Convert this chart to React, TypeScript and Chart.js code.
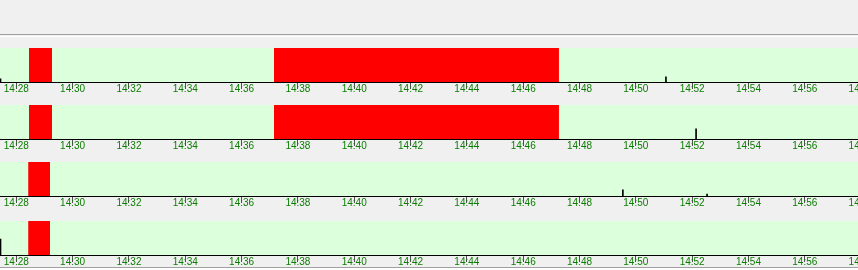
import React, { useEffect, useRef } from "react";
import { Chart, registerables } from "chart.js";

Chart.register(...registerables);

// time axis in minutes after 14:00
const axisMin = 27.421;
const axisMax = 57.89;
const tickValues = [28, 30, 32, 34, 36, 38, 40, 42, 44, 46, 48, 50, 52, 54, 56, 58];
const tickLabels = ["14:28", "14:30", "14:32", "14:34", "14:36", "14:38", "14:40", "14:42", "14:44", "14:46", "14:48", "14:50", "14:52", "14:54", "14:56", "14:58"];

// red intervals [start, end] in minutes after 14:00
const redBlocks1 = [[28.45, 29.27], [37.15, 47.27]];
const redBlocks2 = [[28.45, 29.27], [37.15, 47.27]];
const redBlocks3 = [[28.42, 29.2]];
const redBlocks4 = [[28.42, 29.2]];

// spikes: times and relative heights
const spikeTimes1 = [27.439, 51.07];
const spikeValues1 = [0.09, 0.15];
const spikeTimes2 = [52.14];
const spikeValues2 = [0.3];
const spikeTimes3 = [49.54, 52.53];
const spikeValues3 = [0.18, 0.06];
const spikeTimes4 = [27.439];
const spikeValues4 = [0.47];

const strips = [
  { blocks: redBlocks1, times: spikeTimes1, values: spikeValues1 },
  { blocks: redBlocks2, times: spikeTimes2, values: spikeValues2 },
  { blocks: redBlocks3, times: spikeTimes3, values: spikeValues3 },
  { blocks: redBlocks4, times: spikeTimes4, values: spikeValues4 },
];

const stripTops = [48, 105, 162, 221];
const W = 858;
const PLOT_H = 34;
const AXIS_H = 16;

const bgPlugin = {
  id: "greenBg",
  beforeDatasetsDraw(chart: any) {
    const { ctx, chartArea } = chart;
    ctx.save();
    ctx.fillStyle = "#dcffdc";
    ctx.fillRect(chartArea.left, chartArea.top, chartArea.right - chartArea.left, chartArea.bottom - chartArea.top);
    ctx.restore();
  },
};

function Strip({ index }: { index: number }) {
  const ref = useRef<HTMLCanvasElement | null>(null);
  useEffect(() => {
    const s = strips[index];
    const datasets: any[] = s.blocks.map((b) => ({
      type: "line",
      data: [
        { x: b[0], y: 1 },
        { x: b[1], y: 1 },
      ],
      fill: "origin",
      backgroundColor: "#ff0000",
      borderColor: "rgba(0,0,0,0)",
      borderWidth: 0,
      pointRadius: 0,
      order: 2,
    }));
    datasets.push({
      type: "bar",
      data: s.times.map((t, i) => ({ x: t, y: s.values[i] })),
      backgroundColor: "#000000",
      barThickness: 1,
      grouped: false,
      order: 1,
    });
    const chart = new Chart(ref.current as HTMLCanvasElement, {
      type: "line",
      data: { datasets },
      plugins: [bgPlugin],
      options: {
        animation: false,
        responsive: false,
        maintainAspectRatio: false,
        layout: { padding: 0 },
        plugins: { legend: { display: false }, tooltip: { enabled: false } },
        scales: {
          x: {
            type: "linear",
            min: axisMin,
            max: axisMax,
            offset: false,
            afterBuildTicks: (sc: any) => {
              sc.ticks = tickValues.map((v) => ({ value: v }));
            },
            afterFit: (sc: any) => {
              sc.height = AXIS_H;
              sc.paddingLeft = 0;
              sc.paddingRight = 0;
            },
            grid: {
              offset: false,
              drawOnChartArea: false,
              drawTicks: true,
              tickLength: 7,
              color: "#505050",
              lineWidth: 1,
            },
            border: { display: true, color: "#000000", width: 2 },
            ticks: {
              autoSkip: false,
              maxRotation: 0,
              padding: -6,
              color: "#0a7d00",
              font: { family: "Liberation Sans", size: 10 },
              callback: (v: any) => {
                const i = tickValues.indexOf(Number(v));
                return i >= 0 ? tickLabels[i] : "";
              },
            },
          },
          y: { type: "linear", min: 0, max: 1, display: false },
        },
      },
    } as any);
    return () => chart.destroy();
  }, [index]);
  return (
    <canvas
      ref={ref}
      width={W}
      height={PLOT_H + AXIS_H}
      style={{ position: "absolute", left: 0, top: stripTops[index], width: W, height: PLOT_H + AXIS_H }}
    />
  );
}

export default function App() {
  return (
    <div style={{ position: "fixed", left: 0, top: 0, width: W, height: 270, background: "#f0f0f0", overflow: "hidden" }}>
      <div style={{ position: "absolute", left: 0, top: 34, width: W, height: 1, background: "#a0a0a0" }} />
      <div style={{ position: "absolute", left: 0, top: 36, width: W, height: 1, background: "#ffffff" }} />
      {strips.map((_, i) => (
        <Strip key={i} index={i} />
      ))}
      <div style={{ position: "absolute", left: 0, top: 267, width: W, height: 1, background: "#a0a0a0" }} />
      <div style={{ position: "absolute", left: 0, top: 268, width: W, height: 2, background: "#ffffff" }} />
    </div>
  );
}
